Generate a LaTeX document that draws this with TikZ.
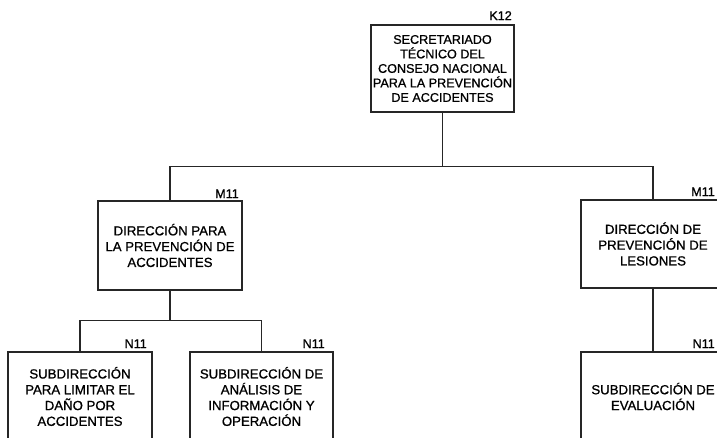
\documentclass[tikz,border=0pt]{standalone}
\usepackage{fontspec}
\setmainfont{Liberation Sans}[FakeBold=0.9]
\begin{document}
\begin{tikzpicture}[x=1pt,y=-1pt,
  box/.style={draw=black!85, line width=1.1pt, fill=white, rectangle, inner sep=0pt,
    minimum width=144pt, minimum height=88pt, align=center,
    font=\fontsize{13.2}{15.8}\selectfont},
  topbox/.style={box, minimum width=143pt, minimum height=87pt,
    font=\fontsize{12.6}{14.5}\selectfont},
  lbl/.style={anchor=base east, inner sep=0pt, font=\fontsize{12.6}{14}\selectfont},
  link/.style={draw=black!85, line width=1.1pt}]
\useasboundingbox (0,0) rectangle (717,437);
\clip (0,0) rectangle (717,437);
\fill[white] (0,0) rectangle (717,437);

\node[topbox] (top) at (442.5,68.5) {SECRETARIADO\\TÉCNICO DEL\\CONSEJO NACIONAL\\PARA LA PREVENCIÓN\\DE ACCIDENTES};
\node[box, minimum height=89pt] (m1) at (170,245.5) {DIRECCIÓN PARA\\LA PREVENCIÓN DE\\ACCIDENTES};
\node[box] (m2) at (653,244) {DIRECCIÓN DE\\PREVENCIÓN DE\\LESIONES};
\node[box, minimum height=89pt] (n1) at (80,396.5) {SUBDIRECCIÓN\\PARA LIMITAR EL\\DAÑO POR\\ACCIDENTES};
\node[box, minimum height=89pt, minimum width=143pt] (n2) at (261.5,396.5) {SUBDIRECCIÓN DE\\ANÁLISIS DE\\INFORMACIÓN Y\\OPERACIÓN};
\node[box, minimum height=89pt] (n3) at (653,396.5) {SUBDIRECCIÓN DE\\EVALUACIÓN};

\node[lbl] (ltop) at (512,20) {K12};
\node[lbl] (lm1) at (239,198) {M11};
\node[lbl] (lm2) at (715,196) {M11};
\node[lbl] (ln1) at (147,348) {N11};
\node[lbl] (ln2) at (325,348) {N11};
\node[lbl] (ln3) at (715,348) {N11};

\draw[link] (top.south) -- ++(0,54) coordinate (j1);
\draw[link] (j1) -| (m1.north);
\draw[link] (j1) -| (m2.north);
\draw[link] (m1.south) -- ++(0,30) coordinate (j2);
\draw[link] (j2) -| (n1.north);
\draw[link] (j2) -| (n2.north);
\draw[link] (m2.south) -- (n3.north);
\end{tikzpicture}
\end{document}
